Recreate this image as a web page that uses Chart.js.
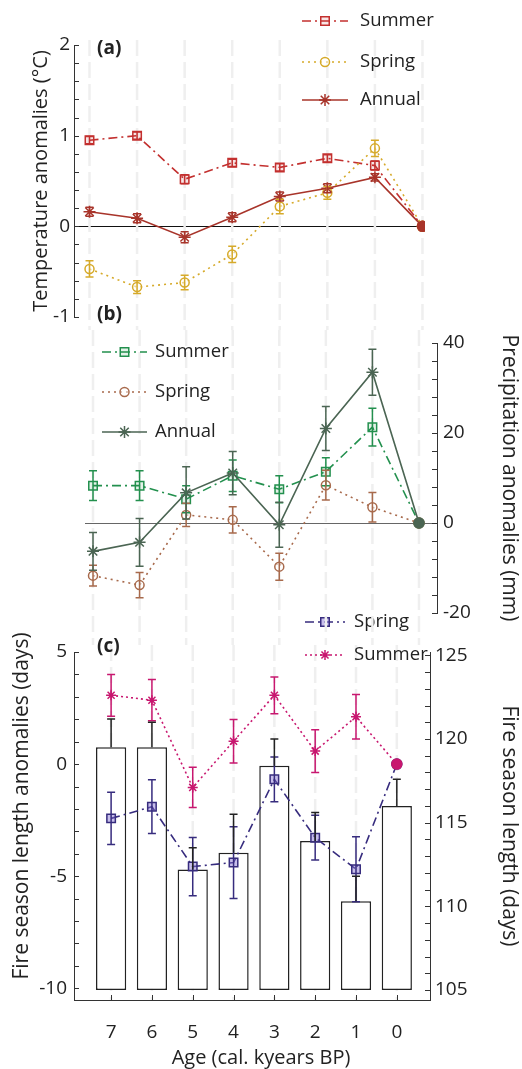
<!DOCTYPE html>
<html>
<head>
<meta charset="utf-8">
<title>Anomalias</title>
<script src="https://cdn.jsdelivr.net/npm/chart.js@4.4.1/dist/chart.umd.min.js"></script>
<style>
  body { margin: 0; background: #fff; }
  #lienzo { position: relative; width: 522px; height: 1069px; }
  #lienzo canvas { position: absolute; left: 0; top: 0; }
</style>
</head>
<body>
<div id="lienzo">
  <canvas id="fuego" width="522" height="1069"></canvas>
  <canvas id="precipitacion" width="522" height="1069"></canvas>
  <canvas id="temperatura" width="522" height="1069"></canvas>
</div>
<script>
var edades = [7, 6, 5, 4, 3, 2, 1, 0];

var tempVerano = [0.95, 1.0, 0.52, 0.70, 0.65, 0.75, 0.67, 0];
var tempPrimavera = [-0.47, -0.67, -0.62, -0.31, 0.22, 0.37, 0.86, 0];
var tempAnual = [0.16, 0.09, -0.12, 0.10, 0.33, 0.42, 0.54, 0];
var errTempVerano = [0.04, 0.04, 0.05, 0.04, 0.04, 0.04, 0.05, 0];
var errTempPrimavera = [0.09, 0.07, 0.08, 0.09, 0.08, 0.07, 0.09, 0];
var errTempAnual = [0.05, 0.05, 0.06, 0.05, 0.05, 0.05, 0.04, 0];

var precVerano = [8.3, 8.3, 5.3, 10.5, 7.5, 11.4, 21.3, 0];
var precPrimavera = [-11.7, -13.8, 1.8, 0.7, -9.7, 8.4, 3.5, 0];
var precAnual = [-6.3, -4.3, 6.7, 11.1, -0.4, 21.0, 33.5, 0];
var errPrecVerano = [3.3, 3.3, 3.0, 3.5, 3.0, 3.1, 4.2, 0];
var errPrecPrimavera = [2.3, 2.8, 2.6, 2.9, 3.0, 3.3, 3.3, 0];
var errPrecAnual = [4.2, 5.3, 5.8, 4.8, 5.0, 4.9, 5.1, 0];

var fuegoPrimavera = [-2.42, -1.9, -4.57, -4.39, -0.68, -3.28, -4.69, 0];
var fuegoVerano = [3.07, 2.85, -1.04, 1.02, 3.07, 0.58, 2.11, 0];
var errFuegoPrimavera = [1.16, 1.2, 1.3, 1.6, 1.0, 1.0, 1.45, 0];
var errFuegoVerano = [0.93, 0.92, 0.9, 0.97, 0.82, 0.95, 0.99, 0];
var duracion = [119.5, 119.5, 112.2, 113.2, 118.4, 113.9, 110.3, 116.0];
var errDuracion = [1.7, 1.5, 1.3, 2.3, 1.6, 1.7, 1.5, 1.6];

var ticksTemp = [-1, 0, 1, 2];
var ticksPrec = [-20, 0, 20, 40];
var ticksAnomalia = [-10, -5, 0, 5];
var ticksDuracion = [105, 110, 115, 120, 125];

var fuente = '"Open Sans", "Noto Sans", sans-serif';
var tinta = '#222';

function etiqueta(valor, lista) {
  for (var i = 0; i < lista.length; i++) {
    if (Math.abs(valor - lista[i]) < 1e-6) return String(lista[i]);
  }
  return '';
}

// el ultimo punto (0 ka) es el de referencia, se pinta relleno
function serie(nombre, datos, errores, color, relleno, estilo, radio, guion, orden) {
  var ultimo = datos.length - 1;
  return {
    type: 'line', label: nombre, data: datos, errores: errores,
    borderColor: color, borderWidth: 1.6, borderDash: guion, relleno: relleno,
    marcador: estilo, tamMarcador: radio,
    pointStyle: function (c) { return c.dataIndex === ultimo ? 'circle' : estilo; },
    pointRadius: function (c) { return c.dataIndex === ultimo ? 5 : radio; },
    pointBorderColor: color, pointBorderWidth: 1.5,
    pointBackgroundColor: function (c) { return c.dataIndex === ultimo ? color : relleno; },
    yAxisID: 'y', order: orden, tension: 0
  };
}

function ejeX(min, max, visible) {
  return {
    type: 'linear', min: min, max: max, reverse: true, display: visible, position: 'bottom',
    afterBuildTicks: function (s) { s.ticks = edades.map(function (e) { return { value: e }; }); },
    afterFit: function (s) { if (visible) s.height = 69; },
    grid: { display: false },
    border: { display: true, color: '#333', width: 1 },
    ticks: { color: tinta, padding: 13, autoSkip: false, maxRotation: 0, font: { size: 19, family: fuente } }
  };
}

function ejeY(o) {
  return {
    type: 'linear', position: o.pos, min: o.min, max: o.max,
    afterFit: function (s) { s.width = o.ancho; },
    border: { display: true, color: '#333', width: 1 },
    grid: {
      display: !!o.cero, drawTicks: false, lineWidth: 1,
      color: function (c) { return c.tick && c.tick.value === 0 ? o.cero : 'rgba(0,0,0,0)'; }
    },
    ticks: {
      stepSize: o.paso, padding: o.pad, autoSkip: false, color: tinta, includeBounds: false,
      font: { size: 19, family: fuente },
      callback: function (v) { return etiqueta(v, o.lista); }
    },
    title: {
      display: !!o.titulo, text: o.titulo, color: tinta, padding: 0,
      font: { size: o.tamTitulo || 21, family: fuente }
    }
  };
}

var guias = {
  id: 'guias',
  beforeDatasetsDraw: function (chart, args, opts) {
    var ctx = chart.ctx, x = chart.scales.x;
    ctx.save();
    ctx.strokeStyle = '#efefef';
    ctx.lineWidth = 2.5;
    ctx.setLineDash([16, 6]);
    edades.forEach(function (e) {
      var px = x.getPixelForValue(e);
      ctx.beginPath();
      ctx.moveTo(px, opts.desde);
      ctx.lineTo(px, opts.hasta);
      ctx.stroke();
    });
    ctx.restore();
  }
};

// marcas de eje hacia dentro, estilo matlab
var marcas = {
  id: 'marcas',
  afterDraw: function (chart, args, opts) {
    var ctx = chart.ctx, area = chart.chartArea, largo = 5;
    ctx.save();
    ctx.strokeStyle = '#333';
    ctx.lineWidth = 1;
    (opts.escalas || []).forEach(function (id) {
      var s = chart.scales[id];
      s.ticks.forEach(function (t) {
        var p = Math.round(s.getPixelForValue(t.value)) + 0.5;
        ctx.beginPath();
        if (s.position === 'left') { ctx.moveTo(area.left, p); ctx.lineTo(area.left + largo, p); }
        else if (s.position === 'right') { ctx.moveTo(area.right, p); ctx.lineTo(area.right - largo, p); }
        else { ctx.moveTo(p, area.bottom); ctx.lineTo(p, area.bottom - largo); }
        ctx.stroke();
      });
    });
    ctx.restore();
  }
};

var barrasError = {
  id: 'barrasError',
  afterDatasetsDraw: function (chart) {
    var ctx = chart.ctx;
    chart.data.datasets.forEach(function (ds, i) {
      if (!ds.errores) return;
      var meta = chart.getDatasetMeta(i);
      var escala = chart.scales[meta.yAxisID];
      ctx.save();
      ctx.strokeStyle = ds.borderColor;
      ctx.lineWidth = 1.5;
      meta.data.forEach(function (el, j) {
        var e = ds.errores[j];
        if (!e) return;
        var v = ds.data[j];
        var arriba = escala.getPixelForValue(v + e);
        var abajo = ds.soloArriba ? el.y : escala.getPixelForValue(v - e);
        ctx.beginPath();
        ctx.moveTo(el.x, arriba); ctx.lineTo(el.x, abajo);
        ctx.moveTo(el.x - 4, arriba); ctx.lineTo(el.x + 4, arriba);
        if (!ds.soloArriba) { ctx.moveTo(el.x - 4, abajo); ctx.lineTo(el.x + 4, abajo); }
        ctx.stroke();
      });
      ctx.restore();
    });
  }
};

var leyenda = {
  id: 'leyenda',
  afterDraw: function (chart, args, opts) {
    var ctx = chart.ctx;
    (opts.items || []).forEach(function (it) {
      var ds = chart.data.datasets[it.serie];
      ctx.save();
      ctx.strokeStyle = ds.borderColor;
      ctx.lineWidth = ds.borderWidth;
      ctx.setLineDash(ds.borderDash || []);
      ctx.beginPath();
      ctx.moveTo(opts.x0, it.y);
      ctx.lineTo(opts.x1, it.y);
      ctx.stroke();
      ctx.setLineDash([]);
      ctx.fillStyle = ds.relleno;
      ctx.lineWidth = ds.pointBorderWidth;
      Chart.helpers.drawPoint(ctx, { pointStyle: ds.marcador, radius: ds.tamMarcador, rotation: 0, borderWidth: ds.pointBorderWidth }, (opts.x0 + opts.x1) / 2, it.y);
      ctx.fillStyle = tinta;
      ctx.font = '18.5px ' + fuente;
      ctx.textBaseline = 'middle';
      ctx.fillText(ds.label, opts.xt, it.y);
      ctx.restore();
    });
  }
};

var textos = {
  id: 'textos',
  afterDraw: function (chart, args, opts) {
    var ctx = chart.ctx;
    (opts.lista || []).forEach(function (t) {
      ctx.save();
      ctx.translate(t.x, t.y);
      ctx.rotate((t.giro || 0) * Math.PI / 180);
      ctx.font = (t.negrita ? 'bold ' : '') + t.tam + 'px ' + fuente;
      ctx.fillStyle = tinta;
      ctx.textAlign = t.alinear || 'center';
      ctx.textBaseline = 'middle';
      ctx.fillText(t.texto, 0, 0);
      ctx.restore();
    });
  }
};

var complementos = [guias, barrasError, marcas, leyenda, textos];

// (a) temperatura
new Chart(document.getElementById('temperatura'), {
  type: 'line',
  data: {
    labels: edades,
    datasets: [
      serie('Summer', tempVerano, errTempVerano, '#c3302f', 'rgba(195,48,47,0.12)', 'rect', 6, [9, 4, 2, 4], 3),
      serie('Spring', tempPrimavera, errTempPrimavera, '#d6aa2a', 'rgba(255,255,255,0.5)', 'circle', 4.5, [2, 4], 2),
      serie('Annual', tempAnual, errTempAnual, '#a8342a', 'rgba(154,43,34,0.3)', 'star', 6, [], 1)
    ]
  },
  options: {
    responsive: false, animation: false, events: [],
    layout: { padding: { left: 29, right: 97, top: 45, bottom: 752 } },
    scales: {
      x: ejeX(-0.053, 7.326, false),
      y: ejeY({ pos: 'left', min: -1, max: 2, paso: 0.2, lista: ticksTemp, ancho: 45, pad: 4, cero: '#111', titulo: 'Temperature anomalies (°C)', tamTitulo: 20 })
    },
    plugins: {
      legend: { display: false }, tooltip: { enabled: false },
      guias: { desde: 40, hasta: 330 },
      marcas: { escalas: ['y'] },
      leyenda: { x0: 302, x1: 348, xt: 360, items: [{ serie: 0, y: 21 }, { serie: 1, y: 62 }, { serie: 2, y: 100 }] },
      textos: { lista: [{ texto: '(a)', x: 97, y: 49, tam: 19, negrita: true, alinear: 'left' }] }
    }
  },
  plugins: complementos
});

// (b) precipitacion
new Chart(document.getElementById('precipitacion'), {
  type: 'line',
  data: {
    labels: edades,
    datasets: [
      serie('Summer', precVerano, errPrecVerano, '#23904e', 'rgba(35,144,78,0.12)', 'rect', 6, [9, 4, 2, 4], 3),
      serie('Spring', precPrimavera, errPrecPrimavera, '#a86a4c', 'rgba(255,255,255,0.5)', 'circle', 4.5, [2, 4], 2),
      serie('Annual', precAnual, errPrecAnual, '#4b6553', 'rgba(75,101,83,0.3)', 'star', 6, [], 1)
    ]
  },
  options: {
    responsive: false, animation: false, events: [],
    layout: { padding: { left: 85, right: 0, top: 343, bottom: 456 } },
    scales: {
      x: ejeX(-0.387, 7.172, false),
      y: ejeY({ pos: 'right', min: -20, max: 40, paso: 4, lista: ticksPrec, ancho: 85, pad: 6, cero: '#666', titulo: 'Precipitation anomalies (mm)' })
    },
    plugins: {
      legend: { display: false }, tooltip: { enabled: false },
      guias: { desde: 330, hasta: 645 },
      marcas: { escalas: ['y'] },
      leyenda: { x0: 102, x1: 147, xt: 155, items: [{ serie: 0, y: 352 }, { serie: 1, y: 392 }, { serie: 2, y: 432 }] },
      textos: { lista: [{ texto: '(b)', x: 97, y: 315, tam: 19, negrita: true, alinear: 'left' }] }
    }
  },
  plugins: complementos
});

// (c) temporada de incendios
var barras = {
  type: 'bar', label: 'Fire season length', data: duracion, errores: errDuracion, soloArriba: true,
  yAxisID: 'y2', base: 105, backgroundColor: '#fff', borderColor: '#222', borderWidth: 1.5,
  borderSkipped: false, categoryPercentage: 1, barPercentage: 0.74, order: 5
};

new Chart(document.getElementById('fuego'), {
  type: 'line',
  data: {
    labels: edades,
    datasets: [
      serie('Spring', fuegoPrimavera, errFuegoPrimavera, '#372c7e', 'rgba(130,110,210,0.45)', 'rect', 6, [9, 4, 2, 4], 2),
      serie('Summer', fuegoVerano, errFuegoVerano, '#c8176f', 'rgba(200,23,111,0.5)', 'star', 5, [2, 3], 1),
      barras
    ]
  },
  options: {
    responsive: false, animation: false, events: [],
    layout: { padding: { left: 9, right: 0, top: 652, bottom: 0 } },
    scales: {
      x: ejeX(-0.268, 7.364, true),
      y: ejeY({ pos: 'left', min: -10.52, max: 5, paso: 1, lista: ticksAnomalia, ancho: 65, pad: 7 }),
      y2: ejeY({ pos: 'right', min: 104.4, max: 125.2, paso: 1, lista: ticksDuracion, ancho: 92, pad: 5, titulo: 'Fire season length (days)' })
    },
    plugins: {
      legend: { display: false }, tooltip: { enabled: false },
      guias: { desde: 645, hasta: 1000 },
      marcas: { escalas: ['y', 'y2', 'x'] },
      leyenda: { x0: 305, x1: 345, xt: 354, items: [{ serie: 0, y: 622 }, { serie: 1, y: 655 }] },
      textos: { lista: [
        { texto: '(c)', x: 97, y: 647, tam: 19, negrita: true, alinear: 'left' },
        { texto: 'Fire season length anomalies (days)', x: 22, y: 806, tam: 21, giro: -90 },
        { texto: 'Age (cal. kyears BP)', x: 261, y: 1058, tam: 20 }
      ] }
    }
  },
  plugins: complementos
});
</script>
</body>
</html>
